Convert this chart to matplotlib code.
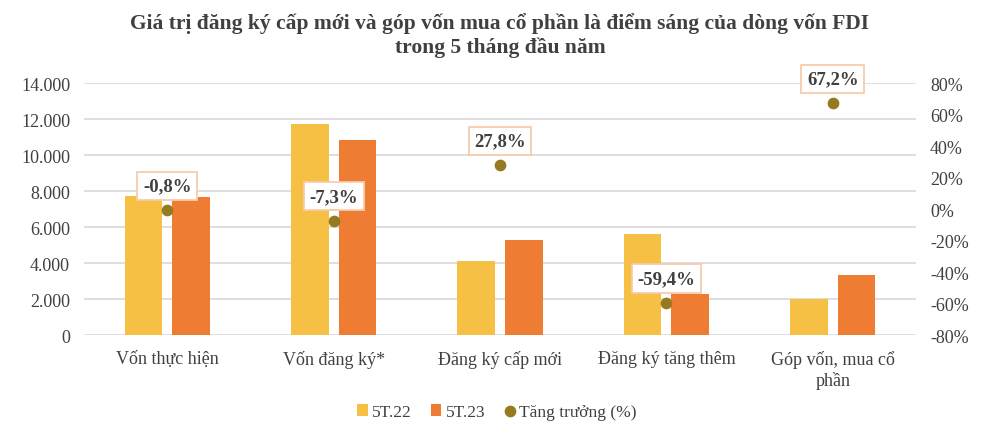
import matplotlib.pyplot as plt
import numpy as np
from matplotlib.ticker import FuncFormatter

categories = ['Vốn thực hiện', 'Vốn đăng ký*', 'Đăng ký cấp mới', 'Đăng ký tăng thêm', 'Góp vốn, mua cổ\nphần']
v_5t22 = [7720, 11700, 4110, 5610, 2000]
v_5t23 = [7660, 10850, 5260, 2280, 3340]
growth = [-0.8, -7.3, 27.8, -59.4, 67.2]
growth_labels = ['-0,8%', '-7,3%', '27,8%', '-59,4%', '67,2%']

plt.rcParams['font.family'] = ['Liberation Serif', 'DejaVu Serif']

fig = plt.figure(figsize=(10, 4.31), dpi=100)
ax = fig.add_axes([0.084, 0.22, 0.832, 0.585])
ax2 = ax.twinx()

x = np.arange(len(categories))
w = 0.225
ax.bar(x - 0.143, v_5t22, w, color='#F5C043', label='5T.22', zorder=2)
ax.bar(x + 0.143, v_5t23, w, color='#EE7D33', label='5T.23', zorder=2)

ax.set_xlim(-0.5, len(categories) - 0.5)
ax.set_ylim(0, 14000)
ax.set_yticks(range(0, 14001, 2000))
ax.yaxis.set_major_formatter(FuncFormatter(lambda v, p: f'{int(v):,}'.replace(',', '.')))
ax.grid(axis='y', color='#D9D9D9', linewidth=1.2, zorder=0)
ax.set_axisbelow(True)
ax.set_xticks(x)
ax.set_xticklabels(categories, fontsize=13, color='#404040')
ax.tick_params(axis='both', length=0, labelsize=13, colors='#404040')
ax.tick_params(axis='y', pad=10)
ax.tick_params(axis='x', pad=11)
for s in ax.spines.values():
    s.set_visible(False)
for s in ax2.spines.values():
    s.set_visible(False)

ax2.scatter(x, growth, s=55, color='#967A1F', zorder=3, label='Tăng trưởng (%)')
ax2.set_ylim(-80, 80)
ax2.set_yticks(range(-80, 81, 20))
ax2.yaxis.set_major_formatter(FuncFormatter(lambda v, p: f'{int(v)}%'))
ax2.tick_params(axis='y', length=0, labelsize=13, colors='#404040', pad=10)

for xi, g, lab in zip(x, growth, growth_labels):
    ax2.annotate(lab, (xi, g), xytext=(0, 17.5), textcoords='offset points',
                 ha='center', va='center', fontsize=13.5, fontweight='bold', color='#404040',
                 bbox=dict(boxstyle='square,pad=0.3', fc='white', ec='#F8CBAD', lw=1.3), zorder=5)

fig.text(0.5, 0.918, 'Giá trị đăng ký cấp mới và góp vốn mua cổ phần là điểm sáng của dòng vốn FDI\ntrong 5 tháng đầu năm',
         ha='center', va='center', fontsize=15.5, fontweight='bold', color='#404040', linespacing=1.25)

h1, l1 = ax.get_legend_handles_labels()
h2, l2 = ax2.get_legend_handles_labels()
fig.legend(h1 + h2, l1 + l2, loc='center', bbox_to_anchor=(0.497, 0.042), ncol=3, frameon=False,
           fontsize=12.5, handlelength=0.6, handletextpad=0.25, columnspacing=1.1, labelcolor='#404040')

fig.savefig('out.png', dpi=100, facecolor='white')
